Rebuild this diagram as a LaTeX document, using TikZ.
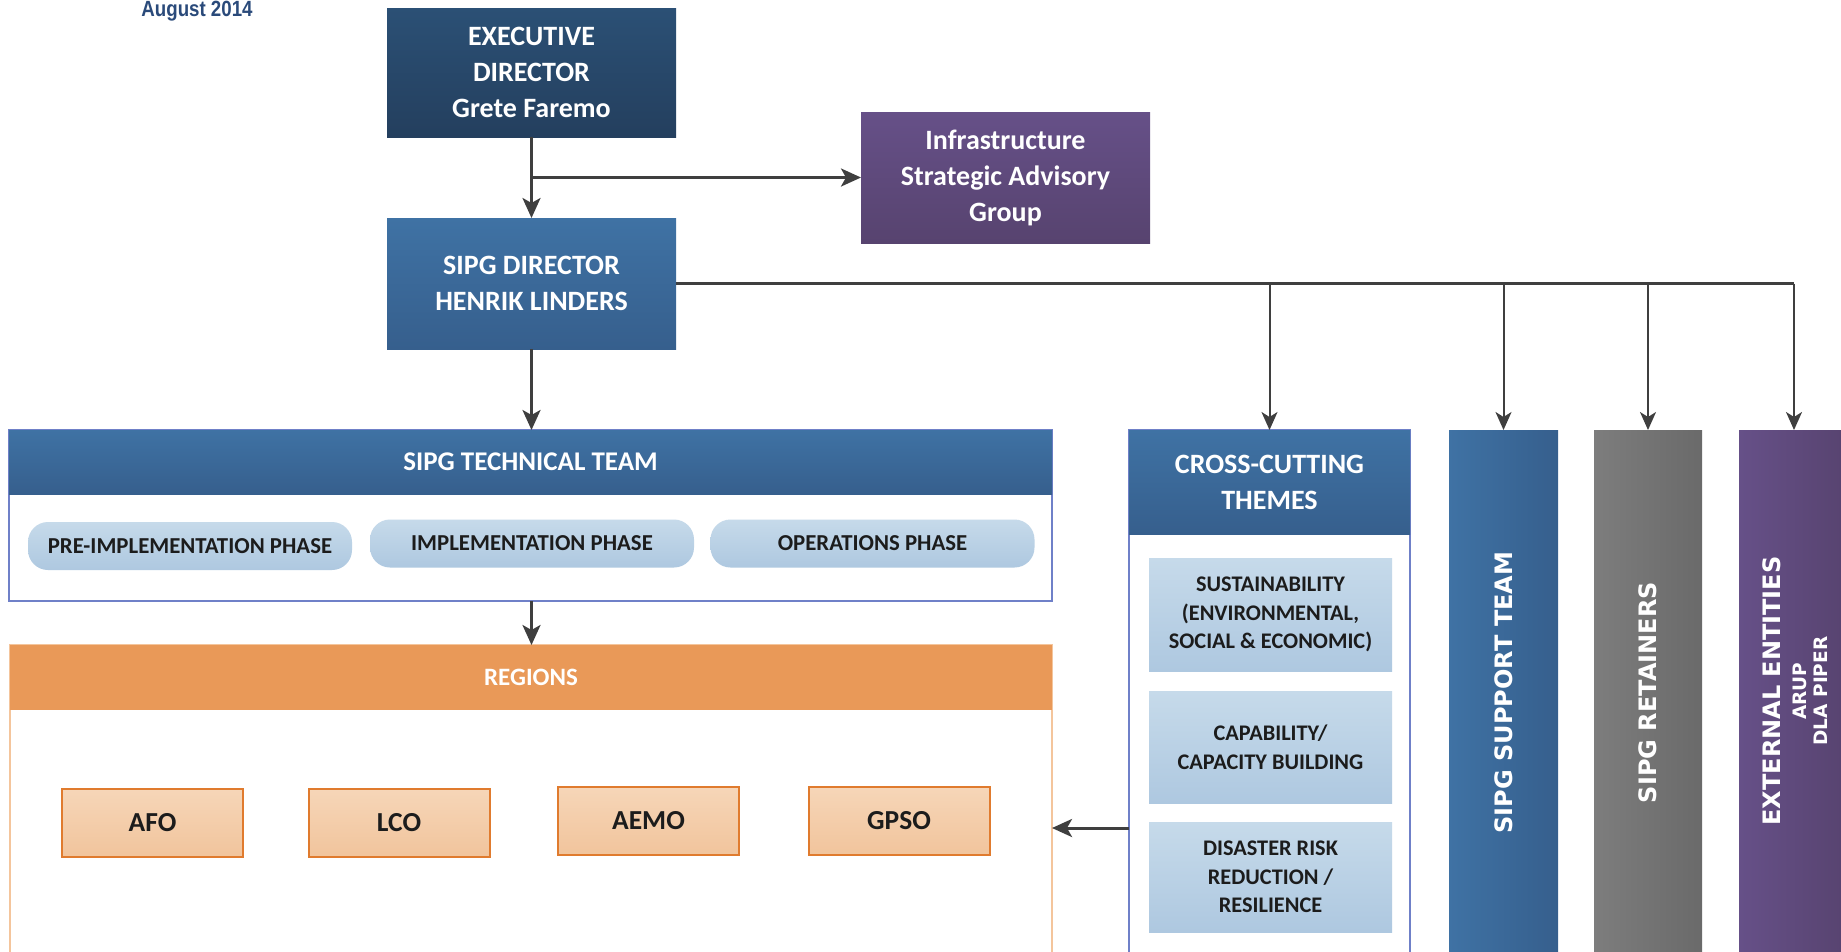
\documentclass[tikz,border=0pt]{standalone}
\usepackage{fontspec}
\setmainfont{Carlito}
\newfontfamily\dvfont{DejaVu Sans}
\newfontfamily\libfont{Liberation Sans}
\usetikzlibrary{arrows.meta,calc}
\definecolor{linegray}{HTML}{3F3F3F}
\definecolor{execTop}{HTML}{2B5075}
\definecolor{execBot}{HTML}{243F5E}
\definecolor{blueTop}{HTML}{3F72A4}
\definecolor{blueBot}{HTML}{365F8D}
\definecolor{purpTop}{HTML}{665088}
\definecolor{purpBot}{HTML}{57436F}
\definecolor{orangeHead}{HTML}{E99958}
\definecolor{orangeLine}{HTML}{F4C59C}
\definecolor{orangeBorder}{HTML}{E07B2E}
\definecolor{peachTop}{HTML}{F6D6B8}
\definecolor{peachBot}{HTML}{F1C49C}
\definecolor{periw}{HTML}{6F80C8}
\definecolor{lbTop}{HTML}{C6DAEA}
\definecolor{lbBot}{HTML}{AEC8E0}
\definecolor{grayL}{HTML}{7D7D7D}
\definecolor{grayR}{HTML}{6A6A6A}
\definecolor{navytext}{HTML}{2A4A7A}
\definecolor{darktext}{HTML}{1C1C1C}
\tikzset{
  conn/.style={draw=linegray, line width=3pt},
  thinconn/.style={draw=linegray, line width=2pt},
  arr/.style={conn, -{Stealth[length=20pt,width=18pt,inset=5pt]}},
  thinarr/.style={thinconn, -{Stealth[length=18pt,width=16pt,inset=5pt]}},
  box/.style={inner sep=0pt, outer sep=0pt, align=center, text=white,
    font=\bfseries\fontsize{28}{36}\selectfont},
  frame/.style={draw=periw, line width=1.5pt, inner sep=0pt, outer sep=0pt, fill=white},
  pill/.style={inner sep=0pt, outer sep=0pt, rounded corners=20pt,
    top color=lbTop, bottom color=lbBot, text=darktext, minimum width=324pt,
    minimum height=48pt, font=\bfseries\fontsize{22.8}{26}\selectfont},
  regbox/.style={inner sep=0pt, outer sep=0pt, draw=orangeBorder, line width=2pt,
    top color=peachTop, bottom color=peachBot, text=darktext,
    minimum width=181pt, minimum height=68pt, font=\bfseries\fontsize{27.5}{32}\selectfont},
  inbox/.style={inner sep=0pt, outer sep=0pt, align=center,
    top color=lbTop, bottom color=lbBot, text=darktext,
    minimum width=243pt, font=\bfseries\fontsize{22.3}{28.5}\selectfont},
  colbox/.style={inner sep=0pt, outer sep=0pt, minimum height=525pt},
  collabel/.style={rotate=90, text=white, align=center, inner sep=0pt,
    font=\dvfont\bfseries\fontsize{24}{30}\selectfont},
}
\begin{document}
\begin{tikzpicture}[x=1pt,y=-1pt]
\useasboundingbox (0,0) rectangle (1841,951);

% date
\node[anchor=base, inner sep=0pt, text=navytext, xscale=0.85,
  font=\libfont\bfseries\fontsize{22}{26}\selectfont] (date) at (197,16) {August 2014};

% top boxes
\node[box, top color=execTop, bottom color=execBot, minimum width=289pt, minimum height=129pt]
  (exec) at (531.5,72.5) {EXECUTIVE\\DIRECTOR\\Grete Faremo};
\node[box, top color=purpTop, bottom color=purpBot, minimum width=289pt, minimum height=131pt]
  (infra) at (1005.5,177.5) {Infrastructure\\Strategic Advisory\\Group};
\node[box, top color=blueTop, bottom color=blueBot, minimum width=289pt, minimum height=131pt]
  (dir) at (531.5,283.5) {SIPG DIRECTOR\\HENRIK LINDERS};

% technical team
\node[frame, minimum width=1043pt, minimum height=171pt] (tech) at (530.5,515.5) {};
\node[box, top color=blueTop, bottom color=blueBot, minimum width=1043pt, minimum height=64pt,
  font=\bfseries\fontsize{27}{32}\selectfont] (techhead) at (530.5,462) {SIPG TECHNICAL TEAM};
\node[pill] (pre) at (190,546) {PRE-IMPLEMENTATION PHASE};
\node[pill] (impl) at (532,543.5) {IMPLEMENTATION PHASE};
\node[pill] (ops) at (872.5,543.5) {OPERATIONS PHASE};

% regions
\node[inner sep=0pt, outer sep=0pt, draw=orangeLine, line width=1.5pt, fill=white,
  minimum width=1042pt, minimum height=310pt] (regions) at (531,800) {};
\node[box, fill=orangeHead, minimum width=1042pt, minimum height=65pt,
  font=\bfseries\fontsize{25}{30}\selectfont] (reghead) at (531,677.5) {REGIONS};
\node[regbox] (afo) at (152.5,823) {AFO};
\node[regbox] (lco) at (399,823) {LCO};
\node[regbox] (aemo) at (648.5,821) {AEMO};
\node[regbox] (gpso) at (899,821) {GPSO};

% cross-cutting themes
\node[frame, minimum width=281pt, minimum height=525pt] (cc) at (1269.5,692.5) {};
\node[box, top color=blueTop, bottom color=blueBot, minimum width=281pt, minimum height=104pt]
  (cchead) at (1269.5,482) {CROSS-CUTTING\\THEMES};
\node[inbox, minimum height=113pt] (sus) at (1270.5,614.5) {SUSTAINABILITY\\(ENVIRONMENTAL,\\SOCIAL \& ECONOMIC)};
\node[inbox, minimum height=112pt] (cap) at (1270.5,747) {CAPABILITY/\\CAPACITY BUILDING};
\node[inbox, minimum height=110pt] (dis) at (1270.5,877) {DISASTER RISK\\REDUCTION /\\RESILIENCE};

% columns
\node[colbox, left color=blueTop, right color=blueBot, minimum width=109pt] (sup) at (1503.5,692.5) {};
\node[collabel] (suplab) at (sup.center) {SIPG SUPPORT TEAM};
\node[colbox, left color=grayL, right color=grayR, minimum width=108pt] (ret) at (1648,692.5) {};
\node[collabel] (retlab) at (ret.center) {SIPG RETAINERS};
\node[colbox, left color=purpTop, right color=purpBot, minimum width=110pt] (ext) at (1794,692.5) {};
\node[collabel] (extlab) at (1795,691) {EXTERNAL ENTITIES\\[-4pt]{\fontsize{18.5}{22}\selectfont ARUP}\\[-9pt]{\fontsize{18.5}{22}\selectfont DLA PIPER}};

% connectors
\coordinate (bend) at (exec.south |- infra.west);
\draw[arr] (exec.south) -- (dir.north);
\draw[arr] (bend) -- (infra.west);
\draw[conn] (dir.east) -- (ext.north |- dir.east);
\draw[thinarr] (ext.north |- dir.east) -- (ext.north);
\draw[thinarr] (ret.north |- dir.east) -- (ret.north);
\draw[thinarr] (sup.north |- dir.east) -- (sup.north);
\draw[thinarr] (cc.north |- dir.east) -- (cc.north);
\draw[arr] (dir.south) -- (dir.south |- tech.north);
\draw[arr] (dir.south |- tech.south) -- (dir.south |- regions.north);
\coordinate (ccleft) at (cc.west |- 0,828);
\draw[arr] (ccleft) -- (regions.east |- ccleft);
\end{tikzpicture}
\end{document}
